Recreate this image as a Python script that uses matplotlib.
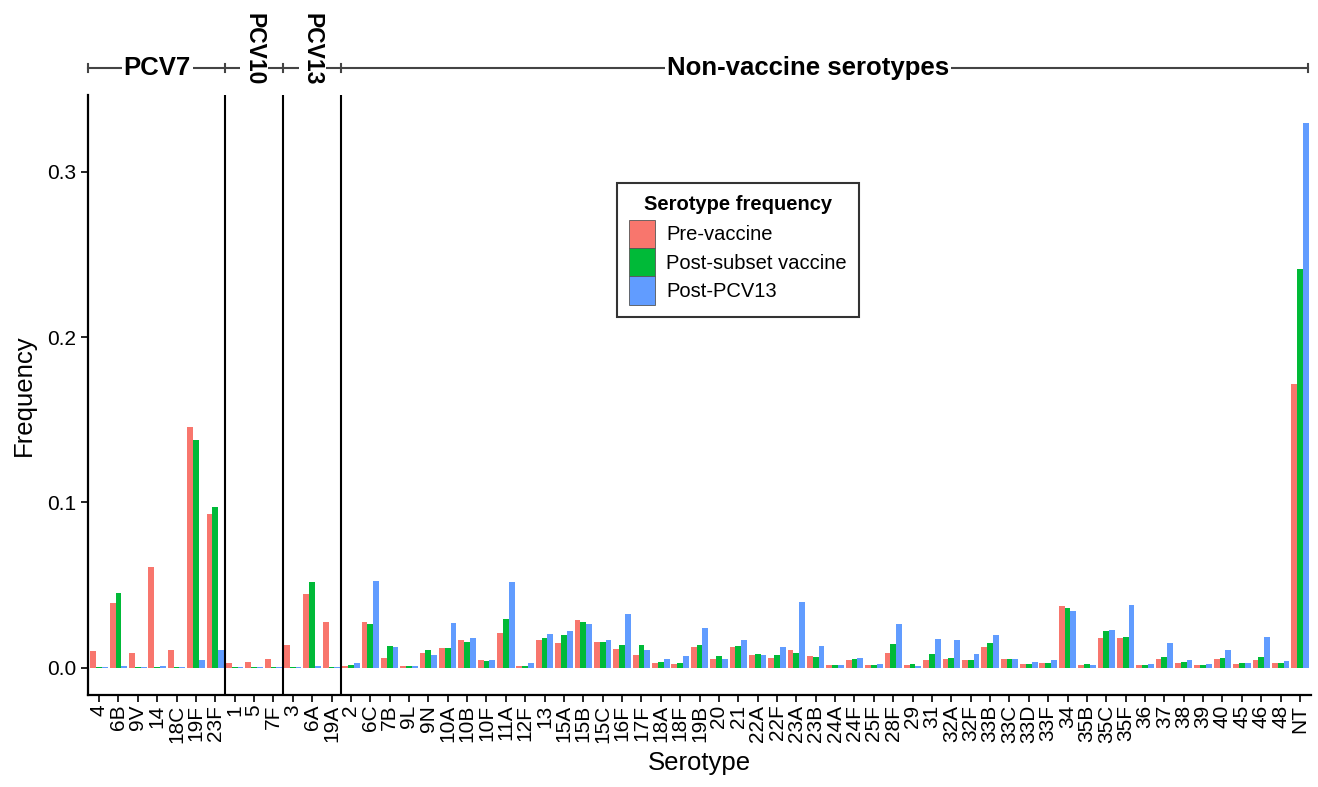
import matplotlib
matplotlib.use("Agg")
import matplotlib.pyplot as plt
import matplotlib.transforms as mtransforms
import numpy as np

plt.rcParams['font.family'] = ['Liberation Sans', 'DejaVu Sans']

# serotypes grouped by vaccine
pcv7 = ['4', '6B', '9V', '14', '18C', '19F', '23F']
pcv10 = ['1', '5', '7F']
pcv13 = ['3', '6A', '19A']
nvt = ['2', '6C', '7B', '9L', '9N', '10A', '10B', '10F', '11A', '12F',
       '13', '15A', '15B', '15C', '16F', '17F', '18A', '18F', '19B', '20',
       '21', '22A', '22F', '23A', '23B', '24A', '24F', '25F', '28F', '29',
       '31', '32A', '32F', '33B', '33C', '33D', '33F', '34', '35B', '35C',
       '35F', '36', '37', '38', '39', '40', '45', '46', '48', 'NT']
serotypes = pcv7 + pcv10 + pcv13 + nvt

pre_vaccine = [0.0104, 0.0392, 0.0088, 0.0610, 0.0110, 0.1454, 0.0932,
               0.0028, 0.0034, 0.0054,
               0.0140, 0.0446, 0.0275,
               0.0010, 0.0277, 0.0060, 0.0010, 0.0090, 0.0122, 0.0167, 0.0046, 0.0209, 0.0012,
               0.0167, 0.0150, 0.0289, 0.0157, 0.0116, 0.0074, 0.0027, 0.0020, 0.0124, 0.0054,
               0.0126, 0.0074, 0.0058, 0.0106, 0.0070, 0.0014, 0.0044, 0.0014, 0.0090, 0.0016,
               0.0048, 0.0052, 0.0046, 0.0127, 0.0054, 0.0022, 0.0030, 0.0373, 0.0018, 0.0179,
               0.0179, 0.0016, 0.0050, 0.0026, 0.0016, 0.0054, 0.0022, 0.0046, 0.0026, 0.1714]
post_subset = [0.0006, 0.0452, 0.0006, 0.0006, 0.0006, 0.1380, 0.0974,
               0.0006, 0.0006, 0.0006,
               0.0006, 0.0520, 0.0006,
               0.0014, 0.0267, 0.0133, 0.0008, 0.0106, 0.0122, 0.0157, 0.0038, 0.0295, 0.0012,
               0.0177, 0.0200, 0.0279, 0.0157, 0.0135, 0.0136, 0.0036, 0.0030, 0.0140, 0.0068,
               0.0134, 0.0084, 0.0076, 0.0090, 0.0062, 0.0014, 0.0052, 0.0014, 0.0145, 0.0020,
               0.0084, 0.0058, 0.0046, 0.0149, 0.0050, 0.0024, 0.0028, 0.0360, 0.0022, 0.0221,
               0.0185, 0.0018, 0.0064, 0.0032, 0.0014, 0.0058, 0.0028, 0.0064, 0.0026, 0.2411]
post_pcv13 = [0.0006, 0.0010, 0.0006, 0.0010, 0.0006, 0.0044, 0.0107,
              0.0006, 0.0006, 0.0006,
              0.0006, 0.0010, 0.0006,
              0.0026, 0.0522, 0.0127, 0.0008, 0.0074, 0.0269, 0.0179, 0.0044, 0.0520, 0.0026,
              0.0203, 0.0223, 0.0265, 0.0169, 0.0325, 0.0109, 0.0052, 0.0070, 0.0240, 0.0054,
              0.0167, 0.0074, 0.0126, 0.0400, 0.0132, 0.0018, 0.0058, 0.0020, 0.0267, 0.0012,
              0.0173, 0.0168, 0.0082, 0.0195, 0.0050, 0.0032, 0.0046, 0.0341, 0.0018, 0.0227,
              0.0378, 0.0024, 0.0147, 0.0046, 0.0024, 0.0106, 0.0026, 0.0185, 0.0038, 0.3297]

series = [('Pre-vaccine', pre_vaccine, '#F8766D'),
          ('Post-subset vaccine', post_subset, '#00BA38'),
          ('Post-PCV13', post_pcv13, '#619CFF')]

fig = plt.figure(figsize=(13.18, 7.87), dpi=100)
ax = fig.add_axes([0.0668, 0.1169, 0.9279, 0.7624])

x = np.arange(len(serotypes))
w = 0.3
for i, (name, vals, col) in enumerate(series):
    ax.bar(x + (i - 1) * w, vals, width=w, color=col, label=name, linewidth=0)

lo, hi = -0.57, len(serotypes) - 1 + 0.57
ax.set_xlim(lo, hi)
ax.set_ylim(-0.0165, 0.3465)

# group separators
bounds = [len(pcv7) - 0.5, len(pcv7) + len(pcv10) - 0.5,
          len(pcv7) + len(pcv10) + len(pcv13) - 0.5]
for b in bounds:
    ax.axvline(b, color='black', lw=1.5)

ax.set_xticks(x)
ax.set_xticklabels(serotypes, rotation=90, fontsize=15)
ax.set_yticks([0, 0.1, 0.2, 0.3])
ax.set_yticklabels(['0.0', '0.1', '0.2', '0.3'], fontsize=15)
ax.tick_params(axis='both', length=5, width=1.2, colors='black')
ax.tick_params(axis='x', pad=2)
for s in ['top', 'right']:
    ax.spines[s].set_visible(False)
for s in ['left', 'bottom']:
    ax.spines[s].set_linewidth(1.6)
ax.set_xlabel('Serotype', fontsize=18.5, labelpad=6)
ax.set_ylabel('Frequency', fontsize=18.5, labelpad=8)

# bracket with group names above the panel
trans = mtransforms.blended_transform_factory(ax.transData, ax.transAxes)
yb = 1.045
edges = [lo, bounds[0], bounds[1], bounds[2], hi - 0.15]
ax.plot([edges[0], edges[-1]], [yb, yb], color='#444444', lw=1.5,
        transform=trans, clip_on=False)
for e in edges:
    ax.plot([e, e], [yb - 0.007, yb + 0.007], color='#444444', lw=1.5,
            transform=trans, clip_on=False)

box = dict(facecolor='white', edgecolor='none', pad=1.5)
ax.text(3, yb, 'PCV7', transform=trans, ha='center', va='center',
        fontsize=18.5, fontweight='bold', bbox=box)
ax.text(8, 1.076, 'PCV10', transform=trans, ha='center', va='center',
        rotation=270, fontsize=16.5, fontweight='bold', bbox=box)
ax.text(11, 1.076, 'PCV13', transform=trans, ha='center', va='center',
        rotation=270, fontsize=16.5, fontweight='bold', bbox=box)
ax.text(36.6, yb, 'Non-vaccine serotypes', transform=trans, ha='center',
        va='center', fontsize=18.5, fontweight='bold', bbox=box)

leg = ax.legend(loc='upper left', bbox_to_anchor=(0.4325, 0.853),
                title='Serotype frequency', fontsize=14.5,
                title_fontproperties={'weight': 'bold', 'size': 14.5},
                frameon=True, fancybox=False, edgecolor='black',
                handlelength=1.3, handleheight=1.78, labelspacing=0,
                handletextpad=0.55, borderpad=0.6, borderaxespad=0)
leg._legend_box.sep = 4
leg.get_frame().set_linewidth(1.5)
for h in leg.legend_handles:
    h.set_edgecolor('#555555')
    h.set_linewidth(0.6)

fig.savefig('out.png', dpi=100)
